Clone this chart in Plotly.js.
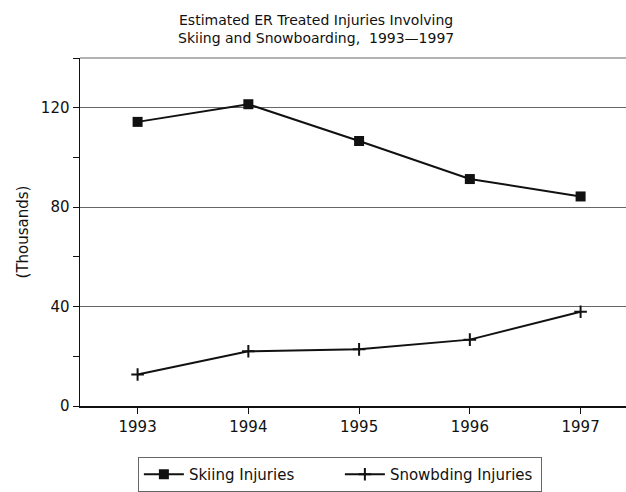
<!DOCTYPE html>
<html>
<head>
<meta charset="utf-8">
<script src="https://cdn.plot.ly/plotly-3.0.1.min.js"></script>
<style>html,body{margin:0;padding:0;background:#fff;}#chart{width:626px;height:492px;}</style>
</head>
<body>
<div id="chart"></div>
<script>
const years = [1993, 1994, 1995, 1996, 1997];
const skiing = [114.3, 121.4, 106.6, 91.3, 84.3];
const snowboarding = [12.7, 22.0, 22.8, 26.7, 37.9];
const seriesNames = ["Skiing Injuries", "Snowbding Injuries"];
const yTicks = [0, 40, 80, 120];

const FONT = "DejaVu Sans, sans-serif";

const traces = [
  {
    x: years, y: skiing, name: seriesNames[0], type: "scatter", mode: "lines+markers",
    line: {color: "#111", width: 2},
    marker: {symbol: "square", size: 10, color: "#111"}
  },
  {
    x: years, y: snowboarding, name: seriesNames[1], type: "scatter", mode: "lines+markers",
    line: {color: "#111", width: 2},
    marker: {symbol: "cross-thin", size: 9, color: "#111", line: {color: "#111", width: 2}}
  }
];

const layout = {
  width: 626, height: 492,
  margin: {l: 80, r: 0, t: 58, b: 85},
  paper_bgcolor: "#fff", plot_bgcolor: "#fff",
  font: {family: FONT, color: "#111", size: 14},
  title: {
    text: "Estimated ER Treated Injuries Involving<br>Skiing and Snowboarding,  1993\u20141997",
    x: 0.505, xref: "container", y: 0.95, yanchor: "top",
    font: {family: FONT, size: 14, color: "#111"}
  },
  xaxis: {
    range: [1992.48, 1997.41],
    tickvals: years, ticktext: years.map(String),
    ticks: "outside", ticklen: 6, tickcolor: "#111", tickwidth: 1,
    showline: true, linecolor: "#111", linewidth: 1.5,
    showgrid: false, zeroline: false,
    tickfont: {family: FONT, size: 15, color: "#111"}
  },
  yaxis: {
    range: [0, 140],
    tickvals: yTicks, ticktext: yTicks.map(String),
    ticks: "outside", ticklen: 6, tickcolor: "#111", tickwidth: 1,
    minor: {dtick: 20, tick0: 0, ticks: "outside", ticklen: 6, tickcolor: "#111", showgrid: false},
    showline: true, linecolor: "#111", linewidth: 1.5,
    showgrid: true, gridcolor: "#666", gridwidth: 1,
    zeroline: false,
    tickfont: {family: FONT, size: 15, color: "#111"},
    title: {text: "(Thousands)", standoff: 8, font: {family: FONT, size: 15, color: "#111"}}
  },
  shapes: [
    {type: "line", xref: "paper", yref: "paper", x0: 0, x1: 1, y0: 1, y1: 1,
     line: {color: "#666", width: 1}}
  ],
  showlegend: true,
  legend: {
    orientation: "h", x: 0.106, xanchor: "left", y: -0.147, yanchor: "top",
    bordercolor: "#666", borderwidth: 1, bgcolor: "#fff",
    font: {family: FONT, size: 15, color: "#111"},
    itemwidth: 40, entrywidth: 146, tracegroupgap: 0
  }
};

Plotly.newPlot("chart", traces, layout, {displayModeBar: false, staticPlot: true});
</script>
</body>
</html>
